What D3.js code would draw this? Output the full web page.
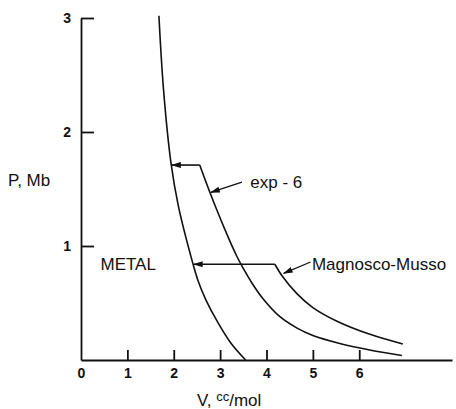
<html>
<head>
<script src="https://cdnjs.cloudflare.com/ajax/libs/d3/7.8.5/d3.min.js"></script>
<style>
  body { margin: 0; background: #fff; }
  text { font-family: "Liberation Sans", Arial, sans-serif; fill: #111; }
  .curve { fill: none; stroke: #111; stroke-width: 1.6; }
  .axis path, .axis line { stroke: #111; stroke-width: 1.8; }
</style>
</head>
<body>
<svg width="456" height="409"></svg>
<script>
// isotherms: V in cc/mol, P in Mb
const metalV = [1.68, 1.78, 1.94, 2.10, 2.41, 2.52, 2.69, 2.95, 3.23, 3.55];
const metalP = [3.02, 2.37, 1.73, 1.35, 0.85, 0.70, 0.53, 0.33, 0.15, 0.00];
const exp6V = [2.56, 2.78, 3.15, 3.36, 3.49, 3.71, 3.92, 4.29, 4.66, 5.00, 5.58, 6.20, 6.92];
const exp6P = [1.71, 1.47, 1.10, 0.91, 0.81, 0.66, 0.54, 0.38, 0.28, 0.215, 0.145, 0.09, 0.04];
const mmV = [4.18, 4.35, 4.66, 5.00, 5.52, 6.23, 6.94];
const mmP = [0.84, 0.73, 0.58, 0.46, 0.34, 0.225, 0.14];
// transition arrows (from curve onset back to metal curve)
const jumpV = [[2.56, 1.96], [4.18, 2.43]];
const jumpP = [1.71, 0.84];
const xTicks = [0, 1, 2, 3, 4, 5, 6];
const yTicks = [1, 2, 3];

const svg = d3.select("svg");
const x = d3.scaleLinear().domain([0, 8]).range([81, 452]);
const y = d3.scaleLinear().domain([0, 3]).range([360, 18]);

svg.append("defs").append("marker")
  .attr("id", "arr")
  .attr("viewBox", "0 0 10 6")
  .attr("refX", 9).attr("refY", 3)
  .attr("markerWidth", 10).attr("markerHeight", 6)
  .attr("markerUnits", "userSpaceOnUse")
  .attr("orient", "auto")
  .append("path").attr("d", "M0,0 L10,3 L0,6 z").attr("fill", "#111");

// axes
const xAxis = svg.append("g").attr("class", "axis")
  .attr("transform", "translate(0," + y(0) + ")")
  .call(d3.axisBottom(x).tickValues(xTicks).tickSize(-10).tickSizeOuter(0).tickPadding(8).tickFormat(d3.format("d")));
xAxis.selectAll("text").style("font-size", "14px").style("font-weight", "bold");
xAxis.selectAll(".tick").filter(d => d === 0).select("line").remove();

const yAxis = svg.append("g").attr("class", "axis")
  .attr("transform", "translate(" + x(0) + ",0)")
  .call(d3.axisLeft(y).tickValues(yTicks).tickSize(-13).tickSizeOuter(0).tickPadding(10).tickFormat(d3.format("d")));
yAxis.selectAll("text").style("font-size", "14px").style("font-weight", "bold");
svg.selectAll(".axis text").attr("fill", "#111");

const line = d3.line().x(d => x(d[0])).y(d => y(d[1])).curve(d3.curveCatmullRom.alpha(0.5));
const curves = [[metalV, metalP], [exp6V, exp6P], [mmV, mmP]];
svg.selectAll(".curve").data(curves).enter().append("path")
  .attr("class", "curve")
  .attr("d", c => line(c[0].map((v, i) => [v, c[1][i]])));

// horizontal jumps with arrowheads on the metal side
svg.selectAll(".jump").data(jumpP).enter().append("line")
  .attr("class", "jump")
  .attr("x1", (p, i) => x(jumpV[i][0])).attr("x2", (p, i) => x(jumpV[i][1]))
  .attr("y1", p => y(p)).attr("y2", p => y(p))
  .attr("stroke", "#111").attr("stroke-width", 1.6)
  .attr("marker-end", "url(#arr)");

// labels with leader arrows
const labels = [
  { text: "exp - 6", v: 3.65, p: 1.56, from: [3.47, 1.56], to: [2.80, 1.47] },
  { text: "Magnosco-Musso", v: 4.98, p: 0.84, from: [4.95, 0.86], to: [4.37, 0.76] }
];
labels.forEach(l => {
  svg.append("line")
    .attr("x1", x(l.from[0])).attr("y1", y(l.from[1]))
    .attr("x2", x(l.to[0])).attr("y2", y(l.to[1]))
    .attr("stroke", "#111").attr("stroke-width", 1.2)
    .attr("marker-end", "url(#arr)");
  svg.append("text").attr("x", x(l.v)).attr("y", y(l.p) + 6)
    .style("font-size", "17px").text(l.text);
});

svg.append("text").attr("x", x(0.42)).attr("y", y(0.84) + 6)
  .style("font-size", "17px").text("METAL");

svg.append("text").attr("x", 8).attr("y", 186).style("font-size", "17px").text("P, Mb");

const xl = svg.append("text").attr("x", 197).attr("y", 406).style("font-size", "17px");
xl.append("tspan").text("V, ");
xl.append("tspan").attr("dy", -5).style("font-size", "13px").text("cc");
xl.append("tspan").attr("dy", 5).text("/mol");
</script>
</body>
</html>
